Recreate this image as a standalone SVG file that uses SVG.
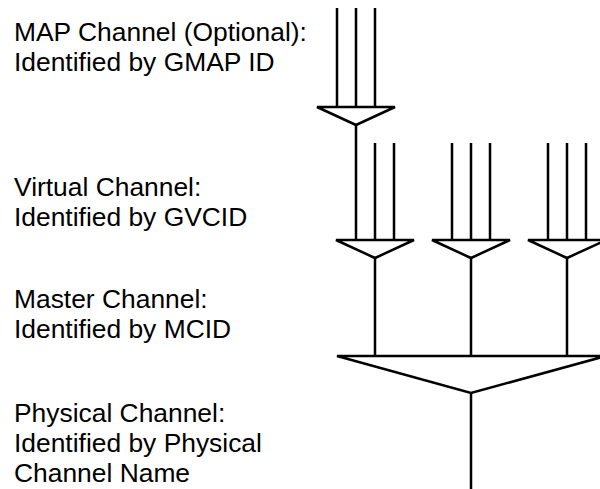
<svg xmlns="http://www.w3.org/2000/svg" width="600" height="489" viewBox="0 0 600 489">
<style>
.t{font-family:"Liberation Sans",Arial,sans-serif;font-size:26.4px;fill:#000}
.ln{stroke:#000;stroke-width:2.5;fill:none}
.tri{stroke:#000;stroke-width:2.5;fill:#fff;stroke-linejoin:miter}
</style>
<rect width="600" height="489" fill="#fff"/>
<g id="labels">
<g id="map-label"><text class="t" x="14" y="41">MAP Channel (Optional):</text><text class="t" x="14" y="71">Identified by GMAP ID</text></g>
<g id="vc-label"><text class="t" x="14" y="196">Virtual Channel:</text><text class="t" x="14" y="226">Identified by GVCID</text></g>
<g id="mc-label"><text class="t" x="14" y="308">Master Channel:</text><text class="t" x="14" y="338">Identified by MCID</text></g>
<g id="pc-label"><text class="t" x="14" y="422">Physical Channel:</text><text class="t" x="14" y="452">Identified by Physical</text><text class="t" x="14" y="482">Channel Name</text></g>
</g>
<g id="connectors">
<path class="ln" d="M337 8V107M356 8V107M375 8V107"/>
<path class="ln" d="M356 125V240M375 143V240M394 143V240"/>
<path class="ln" d="M452 143V240M471 143V240M490 143V240"/>
<path class="ln" d="M548 143V240M567 143V240M586 143V240"/>
<path class="ln" d="M375 258V356M471 258V356M567 258V356"/>
<path class="ln" d="M471 393V489"/>
</g>
<g id="map-mux"><path class="tri" d="M317 107H395L356 125Z"/></g>
<g id="vc-mux-1"><path class="tri" d="M336 240H414L375 258Z"/></g>
<g id="vc-mux-2"><path class="tri" d="M432 240H510L471 258Z"/></g>
<g id="vc-mux-3"><path class="tri" d="M528 240H606L567 258Z"/></g>
<g id="mc-mux"><path class="tri" d="M337 356H606L471 393Z"/></g>
</svg>
